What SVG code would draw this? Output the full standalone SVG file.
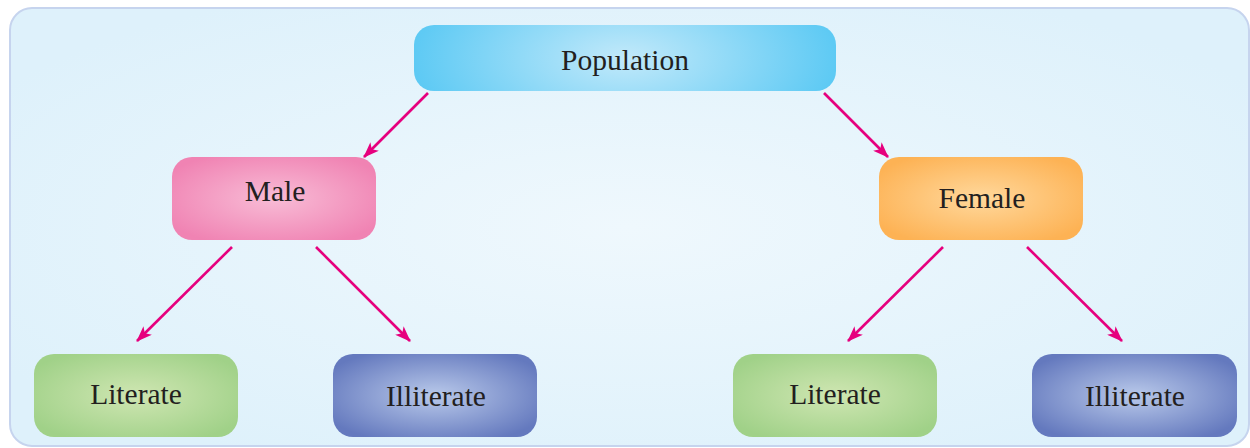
<svg xmlns="http://www.w3.org/2000/svg" width="1250" height="448" viewBox="0 0 1250 448">
<defs>
<radialGradient id="bg" cx="0.5" cy="0.5" r="0.6">
<stop offset="0" stop-color="#eff8fd"/><stop offset="1" stop-color="#def1fb"/>
</radialGradient>
<radialGradient id="gPop" cx="0.5" cy="0.5" r="0.5" gradientTransform="translate(0.5 0.5) scale(1 3) translate(-0.5 -0.5)">
<stop offset="0" stop-color="#c2e9fa"/><stop offset="1" stop-color="#5ecaf4"/>
</radialGradient>
<radialGradient id="gMale" cx="0.5" cy="0.5" r="0.6">
<stop offset="0" stop-color="#f8bcd6"/><stop offset="1" stop-color="#f083b3"/>
</radialGradient>
<radialGradient id="gFem" cx="0.5" cy="0.5" r="0.6">
<stop offset="0" stop-color="#ffd89c"/><stop offset="1" stop-color="#fdb254"/>
</radialGradient>
<radialGradient id="gLit" cx="0.5" cy="0.5" r="0.6">
<stop offset="0" stop-color="#cfe6b2"/><stop offset="1" stop-color="#a0d188"/>
</radialGradient>
<radialGradient id="gIll" cx="0.5" cy="0.5" r="0.6">
<stop offset="0" stop-color="#b9c9ea"/><stop offset="1" stop-color="#6479be"/>
</radialGradient>
<marker id="ah" viewBox="0 0 16 12" refX="15" refY="6" markerWidth="16" markerHeight="12" markerUnits="userSpaceOnUse" orient="auto">
<path d="M0,0 L16,6 L0,12 L4,6 Z" fill="#e6007e"/>
</marker>
</defs>
<style>
.lbl{font-family:"Liberation Serif","Times New Roman",serif;font-size:29.5px;fill:#231f20;text-anchor:middle;}
.conn line{stroke:#e6007e;stroke-width:2.6;marker-end:url(#ah);}
</style>
<rect x="10" y="8" width="1239" height="438" rx="22" fill="url(#bg)" stroke="#c6d4ee" stroke-width="2"/>
<g class="conn">
<line x1="428" y1="93" x2="364" y2="157"/>
<line x1="824" y1="93" x2="888" y2="157"/>
<line x1="232" y1="247" x2="137" y2="341"/>
<line x1="316" y1="247" x2="410" y2="341"/>
<line x1="943" y1="247" x2="848" y2="341"/>
<line x1="1027" y1="247" x2="1122" y2="341"/>
</g>
<g id="population"><rect x="414" y="25" width="422" height="66" rx="20" fill="url(#gPop)"/><text class="lbl" x="625" y="70">Population</text></g>
<g id="male"><rect x="172" y="157" width="204" height="83" rx="20" fill="url(#gMale)"/><text class="lbl" x="275" y="201">Male</text></g>
<g id="female"><rect x="879" y="157" width="204" height="83" rx="20" fill="url(#gFem)"/><text class="lbl" x="982" y="208">Female</text></g>
<g id="literate-m"><rect x="34" y="354" width="204" height="83" rx="20" fill="url(#gLit)"/><text class="lbl" x="136" y="404">Literate</text></g>
<g id="illiterate-m"><rect x="333" y="354" width="204" height="83" rx="20" fill="url(#gIll)"/><text class="lbl" x="436" y="406">Illiterate</text></g>
<g id="literate-f"><rect x="733" y="354" width="204" height="83" rx="20" fill="url(#gLit)"/><text class="lbl" x="835" y="404">Literate</text></g>
<g id="illiterate-f"><rect x="1032" y="354" width="205" height="83" rx="20" fill="url(#gIll)"/><text class="lbl" x="1135" y="406">Illiterate</text></g>
</svg>
